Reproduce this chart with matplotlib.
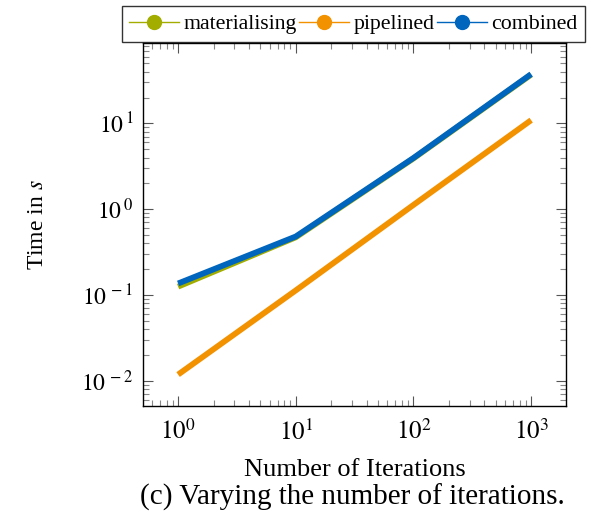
import matplotlib
matplotlib.use('Agg')
import matplotlib.pyplot as plt
from matplotlib.lines import Line2D
from matplotlib.ticker import LogLocator, FixedLocator, NullFormatter

plt.rcParams['font.family'] = ['Liberation Serif', 'DejaVu Serif']
plt.rcParams['mathtext.fontset'] = 'stix'

# measurements: runtime (s) per number of iterations
iterations = [1, 10, 100, 1000]
materialising = [0.125, 0.47, 3.9, 37.0]
pipelined = [0.0118, 0.113, 1.12, 10.9]
combined = [0.136, 0.48, 3.95, 37.5]

series_names = ['materialising', 'pipelined', 'combined']
series_colors = ['#a2ad00', '#f39200', '#0065bd']

fig = plt.figure(figsize=(5.95, 5.2), dpi=100)
ax = fig.add_axes([0.240, 0.22, 0.712, 0.697])

for vals, col in zip([materialising, pipelined, combined], series_colors):
    ax.plot(iterations, vals, color=col, linewidth=4.2, solid_capstyle='butt')

ax.set_xscale('log')
ax.set_yscale('log')
ax.set_xlim(10 ** -0.30, 10 ** 3.30)
ax.set_ylim(10 ** -2.29, 10 ** 1.935)

ax.xaxis.set_major_locator(FixedLocator([1, 10, 100, 1000]))
ax.xaxis.set_minor_locator(LogLocator(base=10, subs=range(2, 10), numticks=20))
ax.yaxis.set_major_locator(FixedLocator([0.01, 0.1, 1, 10]))
ax.yaxis.set_minor_locator(LogLocator(base=10, subs=range(2, 10), numticks=20))
ax.xaxis.set_minor_formatter(NullFormatter())
ax.yaxis.set_minor_formatter(NullFormatter())
ax.set_xticklabels([r'$10^{0}$', r'$10^{1}$', r'$10^{2}$', r'$10^{3}$'], fontsize=18)
ax.set_yticklabels([r'$10^{\,-2}$', r'$10^{\,-1}$', r'$10^{\,0}$', r'$10^{\,1}$'], fontsize=17)

ax.tick_params(which='both', direction='in', top=True, right=True)
ax.tick_params(which='major', length=7, width=0.8, color='#555555', pad=7)
ax.tick_params(axis='x', which='major', pad=10)
ax.tick_params(which='minor', length=4.5, width=0.8, color='#888888')
for sp in ax.spines.values():
    sp.set_linewidth(1.0)

ax.set_ylabel(r'Time in $s$', fontsize=17, labelpad=24)
ax.set_xlabel('Number of Iterations', fontsize=19, labelpad=10)
fig.text(0.592, 0.044, '(c) Varying the number of iterations.', fontsize=21,
         ha='center', va='center')

handles = [Line2D([0], [0], color=c, linewidth=1.0, marker='o', markersize=10,
                  markerfacecolor=c, markeredgecolor=c)
           for c in series_colors]
leg = fig.legend(handles, series_names, loc='upper center', ncol=3,
                 bbox_to_anchor=(0.594, 0.988), fontsize=15.7, frameon=True,
                 fancybox=False, edgecolor='black', handlelength=2.3,
                 handletextpad=0.2, columnspacing=0.1, borderpad=0.35,
                 borderaxespad=0)
leg.get_frame().set_linewidth(1.0)

fig.savefig('out.png', dpi=100)
